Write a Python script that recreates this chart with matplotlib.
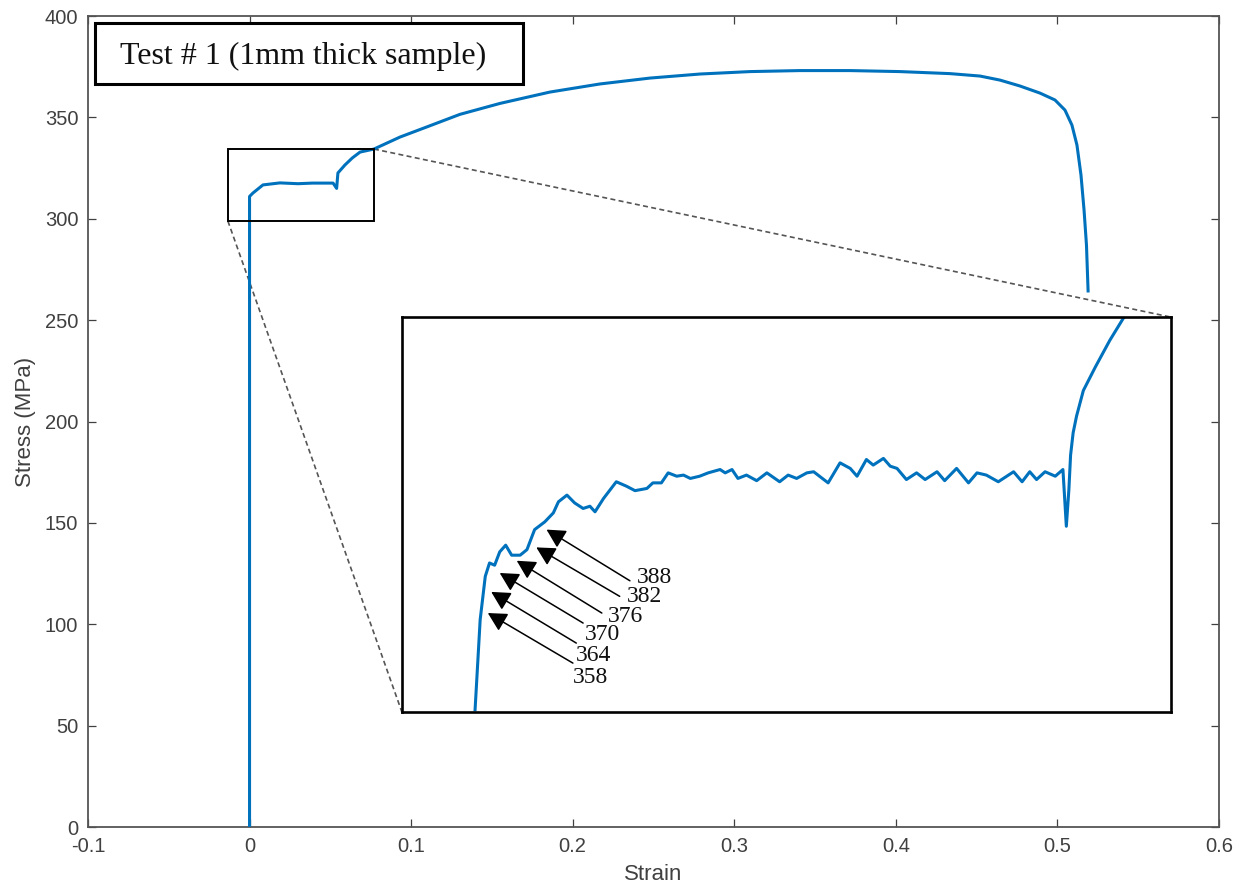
import matplotlib.pyplot as plt
from matplotlib.patches import Rectangle

# main stress-strain curve (strain, MPa)
strain = [0.0, 0.0, 0.0021, 0.0083, 0.0188, 0.030, 0.039, 0.0517, 0.0539, 0.0547,
          0.059, 0.0636, 0.0684, 0.077, 0.0931, 0.1117, 0.1302, 0.155, 0.1859,
          0.2169, 0.2478, 0.2788, 0.3097, 0.3407, 0.3716, 0.4026, 0.4335, 0.4521,
          0.4645, 0.4768, 0.4892, 0.4985, 0.5047, 0.509, 0.5121, 0.5146, 0.5165,
          0.518, 0.519]
stress = [0.0, 311.0, 312.7, 316.7, 317.7, 317.3, 317.6, 317.6, 315.0, 322.6,
          326.5, 330.0, 332.9, 334.4, 340.3, 345.9, 351.5, 356.9, 362.5,
          366.5, 369.4, 371.4, 372.6, 373.1, 373.1, 372.6, 371.6, 370.4,
          368.4, 365.5, 362.0, 358.6, 353.6, 346.2, 336.4, 321.6, 304.3,
          287.0, 264.4]

# zoomed detail shown in the inset
zoom_strain = [-0.0048, -0.0042, -0.0036, -0.0031, -0.0025, -0.0019, -0.0012, -0.0005,
               0.0005, 0.0013, 0.0022, 0.0034, 0.0044, 0.0050, 0.0060, 0.0069, 0.0079,
               0.0087, 0.0093, 0.0103, 0.0118, 0.0130, 0.0140, 0.0154, 0.0161, 0.0171,
               0.0179, 0.0189, 0.0197, 0.0205, 0.0216, 0.0226, 0.0240, 0.0246, 0.0254,
               0.0261, 0.0271, 0.0283, 0.0295, 0.0310, 0.0320, 0.0330, 0.0342, 0.0350,
               0.0367, 0.0381, 0.0393, 0.0401, 0.0412, 0.0420, 0.0432, 0.0440, 0.0448,
               0.0459, 0.0471, 0.0481, 0.0495, 0.0504, 0.0518, 0.0532, 0.0542, 0.0553,
               0.0567, 0.0585, 0.0595, 0.0604, 0.0612, 0.0622, 0.0634, 0.0643, 0.0647,
               0.0650, 0.0652, 0.0655, 0.0659, 0.0667, 0.0681, 0.0698, 0.0714]
zoom_stress = [299.1, 307.2, 311.1, 312.3, 312.1, 313.3, 313.9, 313.0,
               313.0, 313.5, 315.3, 316.0, 316.8, 317.8, 318.4, 317.7, 317.2,
               317.4, 316.9, 318.1, 319.6, 319.2, 318.8, 319.0, 319.5, 319.5,
               320.4, 320.1, 320.2, 319.9, 320.1, 320.4, 320.7, 320.4, 320.7,
               319.9, 320.2, 319.7, 320.4, 319.6, 320.2, 319.9, 320.4, 320.5,
               319.5, 321.3, 320.8, 320.1, 321.6, 321.1, 321.7, 321.0, 320.8,
               319.8, 320.4, 319.8, 320.5, 319.7, 320.8, 319.5, 320.4, 320.2,
               319.6, 320.5, 319.6, 320.5, 319.8, 320.5, 320.1, 320.7, 315.6,
               318.9, 322.0, 324.0, 325.5, 327.8, 329.9, 332.3, 334.3]

# arrow annotations in the inset: label, arrow tip, arrow tail, label position
marker_labels = ["388", "382", "376", "370", "364", "358"]
tip_strain = [0.0036, 0.0024, 0.0001, -0.0019, -0.0029, -0.0033]
tip_stress = [315.3, 313.7, 312.5, 311.4, 309.7, 307.8]
tail_strain = [0.0134, 0.0122, 0.0101, 0.0079, 0.0071, 0.0067]
tail_stress = [310.7, 309.3, 307.8, 306.9, 305.1, 303.3]
label_strain = [0.0142, 0.0130, 0.0108, 0.0081, 0.0071, 0.0067]
label_stress = [311.0, 309.3, 307.5, 305.9, 304.0, 302.0]

zoom_xlim = (-0.0134, 0.077)
zoom_ylim = (298.9, 334.4)
inset_box = (0.0943, 56.7, 0.476, 194.8)  # x0, y0, width, height in main data units

x_ticks = [-0.1, 0.0, 0.1, 0.2, 0.3, 0.4, 0.5, 0.6]
x_tick_labels = ["-0.1", "0", "0.1", "0.2", "0.3", "0.4", "0.5", "0.6"]
y_ticks = [0, 50, 100, 150, 200, 250, 300, 350, 400]

blue = "#0072BD"
axis_grey = "#404040"

fig = plt.figure(figsize=(12.46, 8.96), dpi=100)
ax = fig.add_axes([0.0706, 0.0770, 0.9077, 0.9051])
ax.plot(strain, stress, color=blue, lw=2.2, zorder=3)
ax.set_xlim(-0.1, 0.6)
ax.set_ylim(0, 400)
ax.set_xticks(x_ticks)
ax.set_xticklabels(x_tick_labels)
ax.set_yticks(y_ticks)
ax.tick_params(direction="in", top=True, right=True, length=6, width=0.9,
               colors=axis_grey, labelsize=14.5, pad=7, labelfontfamily="Liberation Sans")
for side in ax.spines.values():
    side.set_color("#555555")
    side.set_linewidth(1.3)
ax.set_xlabel("Strain", fontsize=16, color=axis_grey, family="Liberation Sans", labelpad=6)
ax.set_ylabel("Stress (MPa)", fontsize=16, color=axis_grey, family="Liberation Sans", labelpad=6)

# region that is magnified
ax.add_patch(Rectangle((zoom_xlim[0], zoom_ylim[0]), zoom_xlim[1] - zoom_xlim[0],
                       zoom_ylim[1] - zoom_ylim[0], fill=False, ec="black", lw=1.4, zorder=4))

x0, y0, w, h = inset_box
ax.plot([zoom_xlim[1], x0 + w], [zoom_ylim[1], y0 + h], color="#555555", lw=1.2,
        ls=(0, (3, 2)), zorder=2)
ax.plot([zoom_xlim[0], x0], [zoom_ylim[0], y0], color="#555555", lw=1.2,
        ls=(0, (3, 2)), zorder=2)

# title box
ax.add_patch(Rectangle((0.0062, 0.9162), 0.3784, 0.0752, transform=ax.transAxes,
                       fill=False, ec="black", lw=2.2, zorder=5))
ax.text(0.0283, 0.950, "Test # 1 (1mm thick sample)", transform=ax.transAxes,
        ha="left", va="center", fontsize=23, family="Liberation Serif", color="#111111")

ins = ax.inset_axes(list(inset_box), transform=ax.transData)
ins.plot(zoom_strain, zoom_stress, color=blue, lw=2.2)
ins.set_xlim(*zoom_xlim)
ins.set_ylim(*zoom_ylim)
ins.set_xticks([])
ins.set_yticks([])
for side in ins.spines.values():
    side.set_color("black")
    side.set_linewidth(1.9)

for i, label in enumerate(marker_labels):
    ins.annotate("", xy=(tip_strain[i], tip_stress[i]), xytext=(tail_strain[i], tail_stress[i]),
                 arrowprops=dict(arrowstyle="-|>,head_length=0.6,head_width=0.32",
                                 mutation_scale=19, color="black", lw=1.1,
                                 shrinkA=0, shrinkB=0))
    ins.text(label_strain[i], label_stress[i], label, ha="left", va="center",
             fontsize=17, family="Liberation Serif", color="#111111")

fig.savefig("out.png", dpi=100)
